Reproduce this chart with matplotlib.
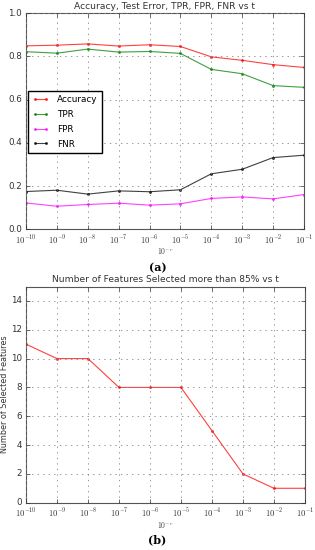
import numpy as np
import matplotlib
matplotlib.use('Agg')
import matplotlib.pyplot as plt

plt.style.use('classic')

# ── Data ─────────────────────────────────────────────────────────────────────
exponents = np.arange(-10, 0)
t_values  = 10.0 ** exponents

accuracy = [0.849, 0.852, 0.858, 0.848, 0.854, 0.846, 0.798, 0.782, 0.762, 0.749]
tpr      = [0.822, 0.815, 0.834, 0.820, 0.823, 0.814, 0.740, 0.720, 0.665, 0.657]
fpr      = [0.122, 0.107, 0.115, 0.121, 0.112, 0.118, 0.143, 0.150, 0.141, 0.161]
fnr      = [0.175, 0.181, 0.163, 0.178, 0.174, 0.183, 0.257, 0.278, 0.332, 0.343]

n_features = [11, 10, 10, 8, 8, 8, 5, 2, 1, 1]

# ── Figure ───────────────────────────────────────────────────────────────────
fig = plt.figure(figsize=(3.15, 5.5), dpi=100, facecolor='white')

ax1 = fig.add_axes([0.0825, 0.583, 0.8825, 0.393])
ax2 = fig.add_axes([0.0825, 0.086, 0.8855, 0.393])


def style_axis(ax):
    ax.set_xscale('log')
    ax.set_xlim(1e-10, 1e-1)
    ax.set_xticks(t_values)
    ax.set_xticklabels([r'$10^{%d}$' % e for e in exponents])
    ax.minorticks_off()
    ax.grid(True, color='#888888', linestyle=':', linewidth=0.6)
    ax.tick_params(labelsize=6.3, length=3, colors='#333333', pad=3)
    for s in ax.spines.values():
        s.set_color('#555555')
        s.set_linewidth(0.8)
    ax.set_xlabel(r'$10^{-r}$', fontsize=5.5, family='serif', color='#444444')
    ax.xaxis.set_label_coords(0.5, -0.078)


series = [
    (accuracy, 'red',     'Accuracy'),
    (tpr,      'green',   'TPR'),
    (fpr,      'magenta', 'FPR'),
    (fnr,      'black',   'FNR'),
]
for vals, col, lab in series:
    ax1.plot(t_values, vals, color=col, marker='.', markersize=3,
             markeredgecolor=col, linewidth=0.8, alpha=0.75, label=lab)

style_axis(ax1)
ax1.set_ylim(0, 1.0)
ax1.set_yticks([0.0, 0.2, 0.4, 0.6, 0.8, 1.0])
ax1.set_title('Accuracy, Test Error, TPR, FPR, FNR vs t', fontsize=6.6,
              color='#333333', pad=3)
ax1.legend(loc='center left', bbox_to_anchor=(0.0, 0.497), fontsize=6.4,
           numpoints=2, frameon=True, borderpad=0.45, labelspacing=0.65,
           handlelength=1.9, handletextpad=0.9, borderaxespad=0.25,
           fancybox=False)

ax2.plot(t_values, n_features, color='red', marker='.', markersize=3,
         markeredgecolor='red', linewidth=0.8, alpha=0.75)
style_axis(ax2)
ax2.set_ylim(0, 15)
ax2.set_yticks(range(0, 15, 2))
ax2.set_title('Number of Features Selected more than 85% vs t', fontsize=6.6,
              color='#333333', pad=3)
ax2.set_ylabel('Number of Selected Features', fontsize=5.8, color='#333333')
ax2.yaxis.set_label_coords(-0.062, 0.5)

fig.text(0.5, 0.514, '(a)', ha='center', va='center', fontsize=8,
         family='serif', fontweight='bold')
fig.text(0.5, 0.018, '(b)', ha='center', va='center', fontsize=8,
         family='serif', fontweight='bold')

plt.savefig('out.png', dpi=100, facecolor='white')
